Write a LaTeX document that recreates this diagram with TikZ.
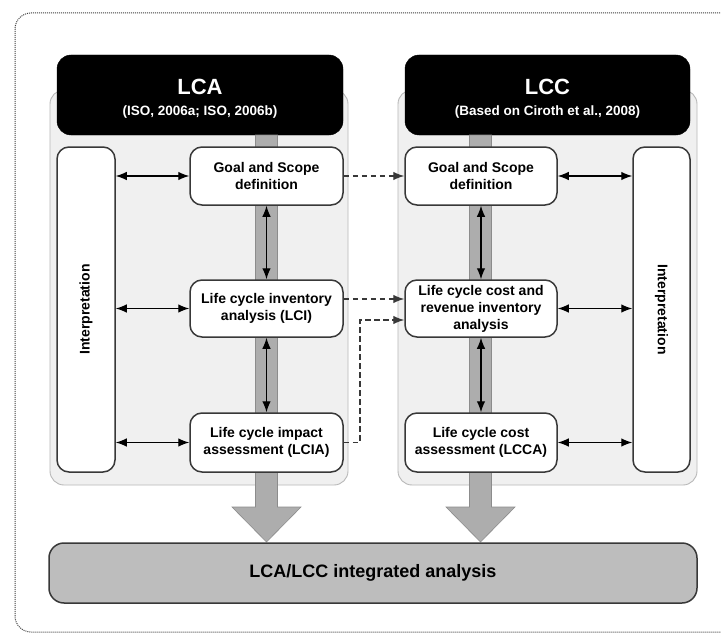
\documentclass[tikz,border=0pt]{standalone}
\usepackage{fontspec}
\setmainfont{Liberation Sans}
\usetikzlibrary{arrows.meta}
\tikzset{
  frame/.style={draw=black!75, line width=1pt, dash pattern=on 1pt off 1pt, rounded corners=16pt},
  panel/.style={draw=black!28, fill=black!6, rounded corners=14pt, line width=0.9pt, inner sep=0pt},
  hdr/.style={draw=black, fill=black, rounded corners=14pt, inner sep=0pt},
  hdrtitle/.style={text=white, font=\bfseries\fontsize{22}{24}\selectfont, anchor=base, inner sep=0pt},
  hdrsub/.style={text=white, font=\bfseries\fontsize{13.5}{16}\selectfont, anchor=base, inner sep=0pt},
  stagebox/.style={draw=black!78, fill=white, rounded corners=12pt, line width=1.5pt, inner sep=0pt,
    align=center, font=\bfseries\fontsize{14}{17}\selectfont},
  interp/.style={draw=black!78, fill=white, rounded corners=12pt, line width=1.5pt, inner sep=0pt},
  interptext/.style={font=\bfseries\fontsize{14}{16}\selectfont, inner sep=0pt},
  dblarrow/.style={{Latex[length=11pt,width=8.5pt]}-{Latex[length=11pt,width=8.5pt]}, line width=1.2pt},
  dasharrow/.style={-{Latex[length=11pt,width=8.5pt]}, draw=black!78, line width=1.1pt, dash pattern=on 5.5pt off 3.5pt},
  flowbar/.style={fill=black!32, draw=black!45, line width=0.6pt},
  integ/.style={draw=black!78, fill=black!26, rounded corners=15pt, line width=1.5pt, inner sep=0pt,
    font=\bfseries\fontsize{18}{20}\selectfont}
}
\begin{document}
\begin{tikzpicture}[x=1pt,y=-1pt]
\useasboundingbox (0,0) rectangle (721,634);
\fill[white] (0,0) rectangle (721,634);
\begin{scope}
\clip (0,0) rectangle (721,634);
\draw[frame] (15,632) -- (15,13) -- (738,13) -- (738,632) -- cycle;
\end{scope}

% panels
\node[panel, minimum width=298pt, minimum height=395pt] (pA) at (199,287.5) {};
\node[panel, minimum width=299pt, minimum height=395pt] (pC) at (547.5,287.5) {};

% headers
\node[hdr, minimum width=286pt, minimum height=80pt] (hA) at (200,95) {};
\node[hdr, minimum width=285pt, minimum height=80pt] (hC) at (547.5,95) {};
\node[hdrtitle] (tA) at (200,95) {LCA};
\node[hdrsub] (sA) at (200,115) {(ISO, 2006a; ISO, 2006b)};
\node[hdrtitle] (tC) at (547.5,95) {LCC};
\node[hdrsub] (sC) at (547.5,115) {(Based on Ciroth et al., 2008)};

% gray flow bars with arrow heads
\draw[flowbar] (255.5,135) -- (277.5,135) -- (277.5,507) -- (301,507) -- (266.5,542) -- (232,507) -- (255.5,507) -- cycle;
\draw[flowbar] (469.5,135) -- (491.5,135) -- (491.5,507) -- (515,507) -- (480.5,542) -- (446,507) -- (469.5,507) -- cycle;

% stage boxes LCA
\node[stagebox, minimum width=153pt, minimum height=58pt] (goalA) at (266.5,176) {Goal and Scope\\definition};
\node[stagebox, minimum width=153pt, minimum height=57pt] (lciA) at (266.5,308.5) {Life cycle inventory\\analysis (LCI)};
\node[stagebox, minimum width=153pt, minimum height=59pt] (lciaA) at (266.5,442.5) {Life cycle impact\\assessment (LCIA)};
% stage boxes LCC
\node[stagebox, minimum width=152pt, minimum height=58pt] (goalC) at (481,176) {Goal and Scope\\definition};
\node[stagebox, minimum width=152pt, minimum height=57pt] (lccC) at (481,308.5) {Life cycle cost and\\revenue inventory\\analysis};
\node[stagebox, minimum width=152pt, minimum height=59pt] (lccaC) at (481,442.5) {Life cycle cost\\assessment (LCCA)};

% interpretation boxes
\node[interp, minimum width=58pt, minimum height=325pt] (iA) at (86,309.5) {};
\node[interptext, rotate=90] (iAt) at (iA.center) {Interpretation};
\node[interp, minimum width=57pt, minimum height=325pt] (iC) at (661.5,309.5) {};
\node[interptext, rotate=-90] (iCt) at (iC.center) {Interpretation};

% interpretation links
\draw[dblarrow] (iA.east |- goalA.west) -- (goalA.west);
\draw[dblarrow] (iA.east |- lciA.west) -- (lciA.west);
\draw[dblarrow] (iA.east |- lciaA.west) -- (lciaA.west);
\draw[dblarrow] (goalC.east) -- (goalC.east -| iC.west);
\draw[dblarrow] (lccC.east) -- (lccC.east -| iC.west);
\draw[dblarrow] (lccaC.east) -- (lccaC.east -| iC.west);

% vertical links
\draw[dblarrow] (goalA.south) -- (lciA.north);
\draw[dblarrow] (lciA.south) -- (lciaA.north);
\draw[dblarrow] (goalC.south) -- (lccC.north);
\draw[dblarrow] (lccC.south) -- (lccaC.north);

% dashed links
\coordinate (k) at (360,0);
\coordinate (c1) at ([yshift=9.5pt]lciA.east);
\coordinate (c2) at ([yshift=-11.5pt]lccC.west);
\draw[dasharrow] (goalA.east) -- (goalC.west);
\draw[dasharrow] (c1) -- (c1 -| lccC.west);
\draw[dasharrow] (lciaA.east) -- (lciaA.east -| k) -- (k |- c2) -- (c2);

% integrated analysis
\node[integ, minimum width=648pt, minimum height=60pt] (integ) at (373,573) {LCA/LCC integrated analysis};
\end{tikzpicture}
\end{document}
